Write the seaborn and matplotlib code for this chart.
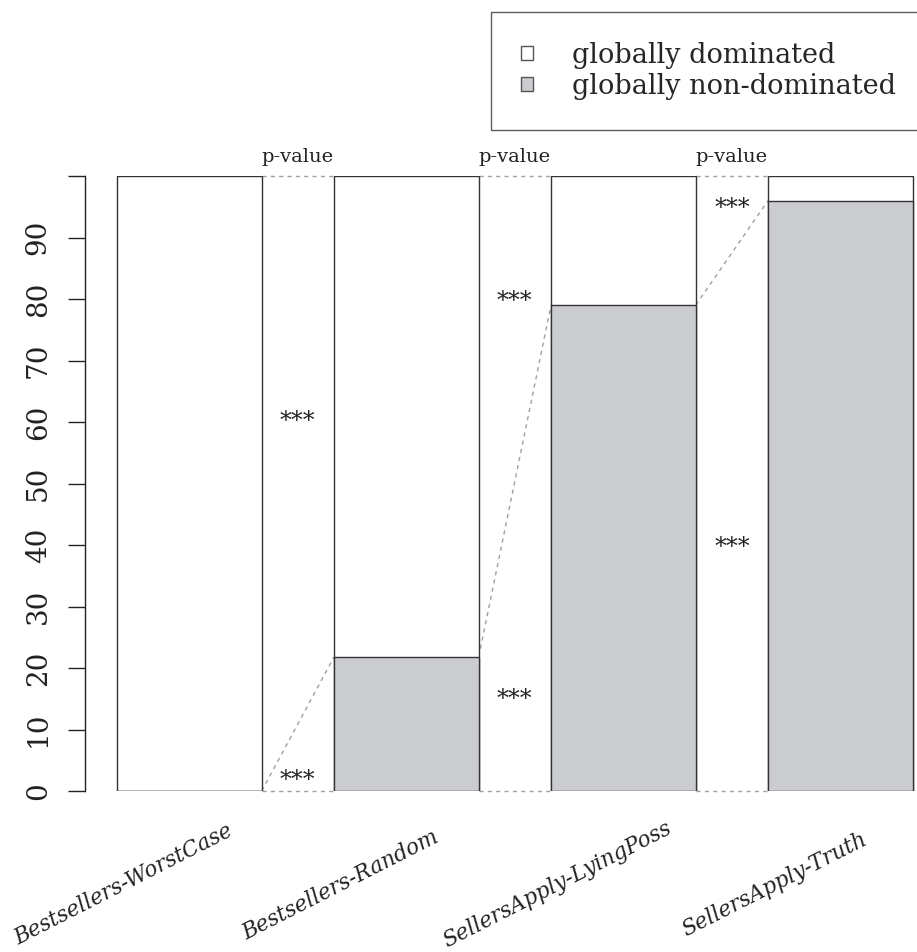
import matplotlib
matplotlib.use("Agg")
import matplotlib.pyplot as plt
import seaborn as sns
from matplotlib.patches import Patch

sns.set_style("white")
plt.rcParams["font.family"] = ["DejaVu Serif"]

# data (percent of cases)
categories = ["Bestsellers-WorstCase", "Bestsellers-Random",
              "SellersApply-LyingPoss", "SellersApply-Truth"]
non_dominated = [0.0, 21.8, 79.0, 96.0]
dominated = [100.0, 78.2, 21.0, 4.0]

# significance marks between neighbouring bars (upper / lower test)
sig_upper = ["***", "***", "***"]
sig_lower = ["***", "***", "***"]
sig_upper_y = [59.0, 78.5, 93.7]
sig_lower_y = [0.7, 13.8, 38.5]

totals = [a + b for a, b in zip(non_dominated, dominated)]
edge = "#333333"
gray = "#cbcccf"

fig = plt.figure(figsize=(9.17, 9.52), dpi=100)
ax = fig.add_axes([85 / 917, 1 - 791 / 952, 832 / 917, 615 / 952])

sns.barplot(x=categories, y=totals, color="white", saturation=1, width=2 / 3,
            edgecolor=edge, linewidth=1, ax=ax)
sns.barplot(x=categories, y=non_dominated, color=gray, saturation=1, width=2 / 3,
            edgecolor=edge, linewidth=1, ax=ax)

# dotted connectors between bars
half = 1 / 3
for i in range(len(categories) - 1):
    x0, x1 = i + half, i + 1 - half
    for y0, y1 in [(0, 0), (non_dominated[i], non_dominated[i + 1]),
                   (totals[i], totals[i + 1])]:
        ax.plot([x0, x1], [y0, y1], color="#a0a0a0", lw=1, ls=(0, (3, 3)),
                zorder=0, clip_on=False)
    ax.text(i + 0.5, 102.3, "p-value", ha="center", va="baseline",
            fontsize=14, color="#222222", clip_on=False)
    ax.text(i + 0.5, sig_upper_y[i], sig_upper[i], ha="center", va="baseline",
            fontsize=17, color="#222222")
    ax.text(i + 0.5, sig_lower_y[i], sig_lower[i], ha="center", va="baseline",
            fontsize=17, color="#222222")

ax.set_xlim(-0.4808, 3.353)
ax.set_ylim(0, 100)
ax.set_yticks(range(0, 101, 10))
ax.set_yticklabels([str(v) for v in range(0, 100, 10)] + [""],
                   rotation=90, va="center", fontsize=20)
ax.tick_params(axis="y", length=12, width=1, pad=12, left=True,
               colors="#222222")
ax.set_xticks([])
ax.set_xlabel("")
ax.set_ylabel("")
for s in ["top", "right", "bottom"]:
    ax.spines[s].set_visible(False)
ax.spines["left"].set_color("#222222")
ax.spines["left"].set_linewidth(1)

# rotated category labels
for i, lab in enumerate(categories):
    ax.text(i - 0.305, -0.153, lab, transform=ax.get_xaxis_transform(),
            rotation=27, rotation_mode="anchor", ha="center", va="center",
            fontsize=15.5, style="italic", color="#222222")

handles = [Patch(facecolor="white", edgecolor="#555555", lw=1),
           Patch(facecolor=gray, edgecolor="#555555", lw=1)]
leg = fig.legend(handles, ["globally dominated", "globally non-dominated"],
                 loc="upper right", bbox_to_anchor=(1.01, 1 - 12 / 952),
                 fontsize=19.5, frameon=True, fancybox=False, borderaxespad=0,
                 handlelength=0.45, handleheight=0.4, handletextpad=1.45,
                 borderpad=1.1, labelspacing=0.15)
leg.get_frame().set_edgecolor("#333333")
leg.get_frame().set_linewidth(1)

fig.savefig("out.png", dpi=100)
